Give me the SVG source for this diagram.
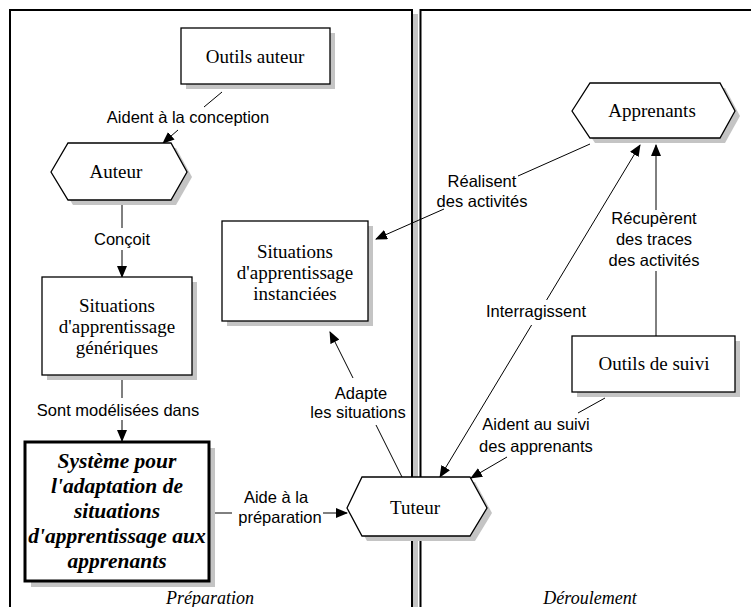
<svg xmlns="http://www.w3.org/2000/svg" width="751" height="607" viewBox="0 0 751 607">
<style>
.panel{fill:none;stroke:#000;stroke-width:2}
.node{fill:#fff;stroke:#000;stroke-width:1.3}
.thick{fill:#fff;stroke:#000;stroke-width:3}
.shadow{fill:#c4c4c4;stroke:none}
.t{font-family:"Liberation Serif","Times New Roman",serif;font-size:19px;fill:#000;text-anchor:middle}
.tb{font-family:"Liberation Serif","Times New Roman",serif;font-size:21.5px;font-weight:bold;font-style:italic;fill:#000;text-anchor:middle}
.ti{font-family:"Liberation Serif","Times New Roman",serif;font-size:18px;font-style:italic;fill:#000;text-anchor:middle}
.l{font-family:"Liberation Sans",Arial,sans-serif;font-size:16.5px;fill:#000;text-anchor:middle}
.c{fill:none;stroke:#000;stroke-width:1}
</style>
<defs>
<marker id="arr" markerUnits="userSpaceOnUse" markerWidth="12" markerHeight="10" refX="11" refY="5" orient="auto-start-reverse">
<path d="M0,0 L12,5 L0,10 z" fill="#000"/>
</marker>
</defs>
<rect width="751" height="607" fill="#fff"/>
<g id="panels">
<rect x="412" y="14" width="6" height="600" fill="#c4c4c4"/>
<rect class="panel" x="10" y="10" width="402" height="620"/>
<rect class="panel" x="420.5" y="10" width="400" height="620"/>
<text class="ti" x="210" y="604">Préparation</text>
<text class="ti" x="590" y="604">Déroulement</text>
</g>
<g id="connectors">
<line class="c" x1="222" y1="92" x2="204" y2="107"/>
<line class="c" x1="178" y1="130" x2="163" y2="143" marker-end="url(#arr)"/>
<line class="c" x1="122" y1="200" x2="122" y2="228"/>
<line class="c" x1="122" y1="250" x2="122" y2="277" marker-end="url(#arr)"/>
<line class="c" x1="122" y1="375" x2="122" y2="398"/>
<line class="c" x1="122" y1="420" x2="122" y2="441" marker-end="url(#arr)"/>
<line class="c" x1="210" y1="513" x2="232" y2="513"/>
<line class="c" x1="323" y1="513" x2="347" y2="513" marker-end="url(#arr)"/>
<line class="c" x1="402" y1="477" x2="376" y2="425"/>
<line class="c" x1="353" y1="378" x2="330" y2="332" marker-end="url(#arr)"/>
<line class="c" x1="590" y1="144" x2="518" y2="176"/>
<line class="c" x1="444" y1="209" x2="376" y2="239" marker-end="url(#arr)"/>
<line class="c" x1="546.6" y1="300" x2="640" y2="145" marker-end="url(#arr)"/>
<line class="c" x1="531.6" y1="325" x2="440" y2="477" marker-end="url(#arr)"/>
<line class="c" x1="656" y1="336" x2="656" y2="271"/>
<line class="c" x1="656" y1="210" x2="656" y2="145" marker-end="url(#arr)"/>
<line class="c" x1="605" y1="398" x2="578" y2="413"/>
<line class="c" x1="507" y1="457" x2="471" y2="478" marker-end="url(#arr)"/>
<text class="l" x="188" y="123">Aident à la conception</text>
<text class="l" x="122" y="245">Conçoit</text>
<text class="l" x="118" y="416">Sont modélisées dans</text>
<text class="l" x="276" y="503">Aide à la</text>
<text class="l" x="280" y="523">préparation</text>
<text class="l" x="361" y="399">Adapte</text>
<text class="l" x="358" y="418">les situations</text>
<text class="l" x="482" y="187">Réalisent</text>
<text class="l" x="482" y="207">des activités</text>
<text class="l" x="536" y="317">Interragissent</text>
<text class="l" x="654" y="224">Récupèrent</text>
<text class="l" x="654" y="245">des traces</text>
<text class="l" x="654" y="266">des activités</text>
<text class="l" x="536" y="430">Aident au suivi</text>
<text class="l" x="536" y="452">des apprenants</text>
</g>
<g id="outils-auteur">
<rect class="shadow" x="186" y="33" width="149" height="56"/>
<rect class="node" x="181" y="28" width="149" height="56"/>
<text class="t" x="255" y="63">Outils auteur</text>
</g>
<g id="auteur">
<polygon class="shadow" points="56,177 73,148 176,148 192,177 176,205 73,205"/>
<polygon class="node" points="51,172 68,143 171,143 187,172 171,200 68,200"/>
<text class="t" x="116" y="178">Auteur</text>
</g>
<g id="situations-generiques">
<rect class="shadow" x="47" y="282" width="150" height="98"/>
<rect class="node" x="42" y="277" width="150" height="98"/>
<text class="t" x="117" y="312">Situations</text>
<text class="t" x="117" y="333">d'apprentissage</text>
<text class="t" x="117" y="354">génériques</text>
</g>
<g id="systeme">
<rect class="shadow" x="31" y="448" width="184" height="139"/>
<rect class="thick" x="25" y="442" width="184" height="139"/>
<text class="tb" x="117" y="468">Système pour</text>
<text class="tb" x="117" y="493">l'adaptation de</text>
<text class="tb" x="117" y="518">situations</text>
<text class="tb" x="117" y="543">d'apprentissage aux</text>
<text class="tb" x="117" y="568">apprenants</text>
</g>
<g id="situations-instanciees">
<rect class="shadow" x="227" y="226" width="146" height="100"/>
<rect class="node" x="222" y="221" width="146" height="100"/>
<text class="t" x="295" y="258">Situations</text>
<text class="t" x="295" y="279">d'apprentissage</text>
<text class="t" x="295" y="300">instanciées</text>
</g>
<g id="tuteur">
<polygon class="shadow" points="352,513 367,482 475,482 492,513 475,541 367,541"/>
<polygon class="node" points="347,508 362,477 470,477 487,508 470,536 362,536"/>
<text class="t" x="415" y="514">Tuteur</text>
</g>
<g id="apprenants">
<polygon class="shadow" points="577,116 595,88 725,88 740,116 725,143 595,143"/>
<polygon class="node" points="572,111 590,83 720,83 735,111 720,138 590,138"/>
<text class="t" x="652" y="117">Apprenants</text>
</g>
<g id="outils-suivi">
<rect class="shadow" x="577" y="341" width="163" height="56"/>
<rect class="node" x="572" y="336" width="163" height="56"/>
<text class="t" x="654" y="370">Outils de suivi</text>
</g>
</svg>
